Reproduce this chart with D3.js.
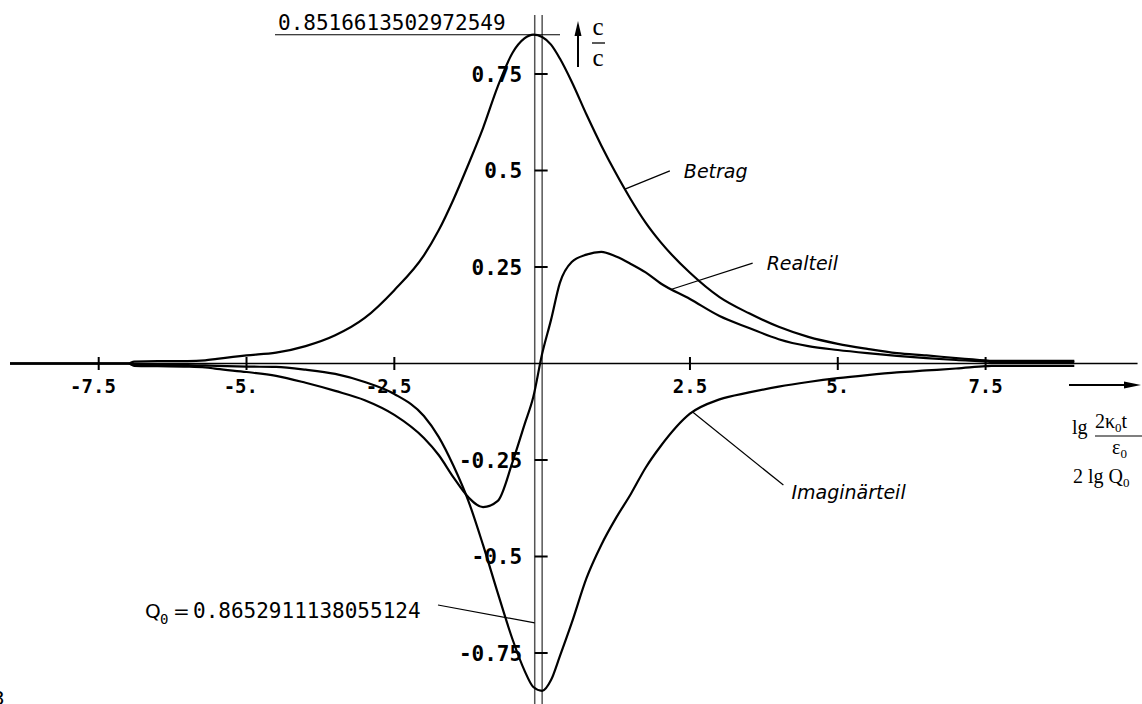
<!DOCTYPE html>
<html>
<head>
<meta charset="utf-8">
<script src="https://cdn.jsdelivr.net/npm/d3@7"></script>
<style>
  body { margin: 0; background: #fff; }
  svg { display: block; }
</style>
</head>
<body>
<div id="chart"></div>
<script>
// x values: lg(2 kappa0 t / eps0)
var lgT = [-9, -7, -6.9, -6.5, -6, -5.7, -5.5, -5, -4.5, -4,
    -3.5, -3, -2.5, -2, -1.75, -1.5, -1.25, -1, -0.75, -0.5,
    -0.3, -0.15, 0, 0.15, 0.3, 0.5, 0.75, 1, 1.25, 1.5,
    1.75, 2, 2.5, 3, 3.5, 4, 4.5, 5, 5.5, 6,
    6.5, 7, 7.5, 7.6, 8, 9]

var betrag = [0, 0, 0.005, 0.006, 0.006, 0.008, 0.012, 0.021, 0.028, 0.045,
    0.073, 0.118, 0.19, 0.28, 0.345, 0.425, 0.515, 0.61, 0.718, 0.805,
    0.842, 0.852, 0.846, 0.826, 0.79, 0.73, 0.645, 0.565, 0.492, 0.425,
    0.365, 0.315, 0.235, 0.172, 0.130, 0.095, 0.069, 0.051, 0.038, 0.027,
    0.021, 0.014, 0.008, 0.007, 0.007, 0.007]

var realteil = [0, 0, -0.006, -0.007, -0.008, -0.01, -0.014, -0.022, -0.032, -0.05,
    -0.071, -0.095, -0.133, -0.193, -0.237, -0.295, -0.346, -0.372, -0.356, -0.255,
    -0.159, -0.087, 0.025, 0.113, 0.209, 0.263, 0.282, 0.289, 0.277, 0.258,
    0.236, 0.208, 0.167, 0.123, 0.092, 0.063, 0.045, 0.035, 0.027, 0.02,
    0.014, 0.009, 0.005, 0.004, 0.004, 0.004]

var imaginaerteil = [0, 0, -0.003, -0.004, -0.004, -0.005, -0.006, -0.008, -0.009, -0.016,
    -0.027, -0.048, -0.079, -0.136, -0.19, -0.265, -0.355, -0.47, -0.595, -0.715,
    -0.795, -0.838, -0.848, -0.82, -0.758, -0.672, -0.556, -0.47, -0.40, -0.338,
    -0.27, -0.215, -0.13, -0.093, -0.075, -0.06, -0.048, -0.038, -0.03, -0.023,
    -0.018, -0.013, -0.007, -0.006, -0.006, -0.006]

var xTicks = [-7.5, -5, -2.5, 2.5, 5, 7.5]
var xTickLabels = ['-7.5', '-5.', '-2.5', '2.5', '5.', '7.5']
var yTicks = [0.75, 0.5, 0.25, -0.25, -0.5, -0.75]
var yTickLabels = ['0.75', '0.5', '0.25', '-0.25', '-0.5', '-0.75']

var peakValue = 0.8516613502972549
var q0 = 0.8652911138055124

// curve labels: leader starts on the curve at leaderFromX, ends at (leaderToX, leaderToY)
var seriesNames = ['Betrag', 'Realteil', 'Imaginärteil']
var leaderFromX = [1.40, 2.19, 2.55]
var leaderToX = [2.16, 3.56, 4.08]
var leaderToY = [0.499, 0.26, -0.315]

var width = 1142, height = 704

var x = d3.scaleLinear().domain([-7.5, 7.5]).range([98.7, 985.6])
var y = d3.scaleLinear().domain([-0.75, 0.75]).range([653, 74])

var svg = d3.select('#chart')
    .append('svg')
    .attr('width', width)
    .attr('height', height)

var mono = "'DejaVu Sans Mono', monospace"
var serif = "'Liberation Serif', 'Times New Roman', serif"
var sans = "'DejaVu Sans', sans-serif"

// vertical lines at 2 lg Q0 and at 0
var x0line = x(2 * Math.log10(q0))
svg.selectAll('.vline')
    .data([x0line, x(0)])
    .enter()
    .append('line')
    .attr('class', 'vline')
    .attr('x1', function(d){ return d })
    .attr('x2', function(d){ return d })
    .attr('y1', 15)
    .attr('y2', height)
    .attr('stroke', '#555')
    .attr('stroke-width', 1.5)

// x axis line
svg.append('line')
    .attr('x1', x(-9)).attr('x2', x(10.07))
    .attr('y1', y(0)).attr('y2', y(0))
    .attr('stroke', '#000')
    .attr('stroke-width', 1.3)

// x ticks
svg.selectAll('.xtick')
    .data(xTicks)
    .enter()
    .append('line')
    .attr('class', 'xtick')
    .attr('x1', function(d){ return x(d) })
    .attr('x2', function(d){ return x(d) })
    .attr('y1', y(0) - 6.5)
    .attr('y2', y(0) + 6.5)
    .attr('stroke', '#000')
    .attr('stroke-width', 2)

// labels are centred on the unsigned part, the minus hangs left
var cwX = 0.602 * 19
svg.selectAll('.xlabel')
    .data(xTicks)
    .enter()
    .append('text')
    .attr('class', 'xlabel')
    .attr('x', function(d, i){
        var abs = xTickLabels[i].replace('-', '')
        return x(d) + abs.length * cwX / 2
    })
    .attr('y', y(0) + 29)
    .attr('text-anchor', 'end')
    .attr('font-family', mono)
    .attr('font-weight', 'bold')
    .attr('font-size', 19)
    .text(function(d, i){ return xTickLabels[i] })

// y ticks
svg.selectAll('.ytick')
    .data(yTicks)
    .enter()
    .append('line')
    .attr('class', 'ytick')
    .attr('x1', x(0) - 7.5)
    .attr('x2', x(0) + 5.5)
    .attr('y1', function(d){ return y(d) })
    .attr('y2', function(d){ return y(d) })
    .attr('stroke', '#000')
    .attr('stroke-width', 2)

svg.selectAll('.ylabel')
    .data(yTicks)
    .enter()
    .append('text')
    .attr('class', 'ylabel')
    .attr('x', x(0) - 20)
    .attr('y', function(d){ return y(d) + 7.5 })
    .attr('text-anchor', 'end')
    .attr('font-family', mono)
    .attr('font-weight', 'bold')
    .attr('font-size', 21)
    .text(function(d, i){ return yTickLabels[i] })

// curves
var seriesVals = [betrag, realteil, imaginaerteil]
var series = seriesVals.map(function(vals, i){
    return {
        name: seriesNames[i],
        value: lgT.map(function(t, j){ return { t: t, v: vals[j] } })
    }
})

var line = d3.line()
    .curve(d3.curveMonotoneX)
    .x(function(d){ return x(d.t) })
    .y(function(d){ return y(d.v) })

svg.selectAll('.curve')
    .data(series)
    .enter()
    .append('path')
    .attr('class', 'curve')
    .attr('fill', 'none')
    .attr('stroke', '#000')
    .attr('stroke-width', 2.2)
    .attr('stroke-linejoin', 'round')
    .attr('d', function(d){ return line(d.value) })

// leaders + names
function valueAt(vals, t){
    return d3.scaleLinear().domain(lgT).range(vals)(t)
}
seriesNames.forEach(function(name, i){
    svg.append('line')
        .attr('x1', x(leaderFromX[i]))
        .attr('y1', y(valueAt(seriesVals[i], leaderFromX[i])))
        .attr('x2', x(leaderToX[i]))
        .attr('y2', y(leaderToY[i]))
        .attr('stroke', '#000')
        .attr('stroke-width', 1.2)
    svg.append('text')
        .attr('x', x(leaderToX[i]) + (i == 2 ? 8 : 14))
        .attr('y', y(leaderToY[i]) + (i == 2 ? 14 : 7))
        .attr('font-family', sans)
        .attr('font-style', 'italic')
        .attr('font-size', 19)
        .text(name)
})

// peak value line and label
svg.append('line')
    .attr('x1', 275).attr('x2', 560)
    .attr('y1', y(peakValue)).attr('y2', y(peakValue))
    .attr('stroke', '#000')
    .attr('stroke-width', 1.2)
svg.append('text')
    .attr('x', 278)
    .attr('y', 30)
    .attr('font-family', mono)
    .attr('font-size', 21)
    .text(String(peakValue))

// Q0 label
svg.append('line')
    .attr('x1', 438).attr('y1', 605)
    .attr('x2', x0line).attr('y2', y(-0.672))
    .attr('stroke', '#000')
    .attr('stroke-width', 1.2)
svg.append('text')
    .attr('x', 145).attr('y', 618)
    .attr('font-family', sans)
    .attr('font-size', 20)
    .text('Q')
svg.append('text')
    .attr('x', 160).attr('y', 624)
    .attr('font-family', mono)
    .attr('font-size', 14)
    .text('0')
svg.append('text')
    .attr('x', 173).attr('y', 618)
    .attr('font-family', sans)
    .attr('font-size', 20)
    .text('=')
svg.append('text')
    .attr('x', 193).attr('y', 618)
    .attr('font-family', mono)
    .attr('font-size', 21)
    .text(String(q0))

// y axis arrow and c/c
svg.append('line')
    .attr('x1', 578).attr('x2', 578)
    .attr('y1', 67).attr('y2', 32)
    .attr('stroke', '#000').attr('stroke-width', 2)
svg.append('path')
    .attr('d', 'M578,21 L574.5,36 L581.5,36 Z')
    .attr('fill', '#000')
svg.append('text')
    .attr('x', 598).attr('y', 35)
    .attr('text-anchor', 'middle')
    .attr('font-family', serif)
    .attr('font-size', 25)
    .text('c')
svg.append('line')
    .attr('x1', 592).attr('x2', 605)
    .attr('y1', 43).attr('y2', 43)
    .attr('stroke', '#000').attr('stroke-width', 1.3)
svg.append('text')
    .attr('x', 598).attr('y', 66)
    .attr('text-anchor', 'middle')
    .attr('font-family', serif)
    .attr('font-size', 25)
    .text('c')

// x axis arrow and label
svg.append('line')
    .attr('x1', 1069).attr('x2', 1128)
    .attr('y1', 385).attr('y2', 385)
    .attr('stroke', '#000').attr('stroke-width', 2)
svg.append('path')
    .attr('d', 'M1141,385 L1124,381.5 L1124,388.5 Z')
    .attr('fill', '#000')

var xl = svg.append('g').attr('font-family', serif).attr('font-size', 20)
xl.append('text').attr('x', 1072).attr('y', 434).text('lg')
var num = xl.append('text').attr('x', 1095).attr('y', 428)
num.append('tspan').text('2κ')
num.append('tspan').attr('font-size', 13).attr('dy', 4).text('0')
num.append('tspan').attr('dy', -4).text('t')
xl.append('line')
    .attr('x1', 1095).attr('x2', 1142)
    .attr('y1', 436).attr('y2', 436)
    .attr('stroke', '#000').attr('stroke-width', 1.2)
var den = xl.append('text').attr('x', 1112).attr('y', 454)
den.append('tspan').text('ε')
den.append('tspan').attr('font-size', 13).attr('dy', 4).text('0')
var q = xl.append('text').attr('x', 1073).attr('y', 483)
q.append('tspan').text('2 lg Q')
q.append('tspan').attr('font-size', 13).attr('dy', 4).text('0')

// figure number, cut by the left edge as in the scan
svg.append('text')
    .attr('x', -8).attr('y', 705)
    .attr('font-family', sans)
    .attr('font-size', 20)
    .text('3')
</script>
</body>
</html>
